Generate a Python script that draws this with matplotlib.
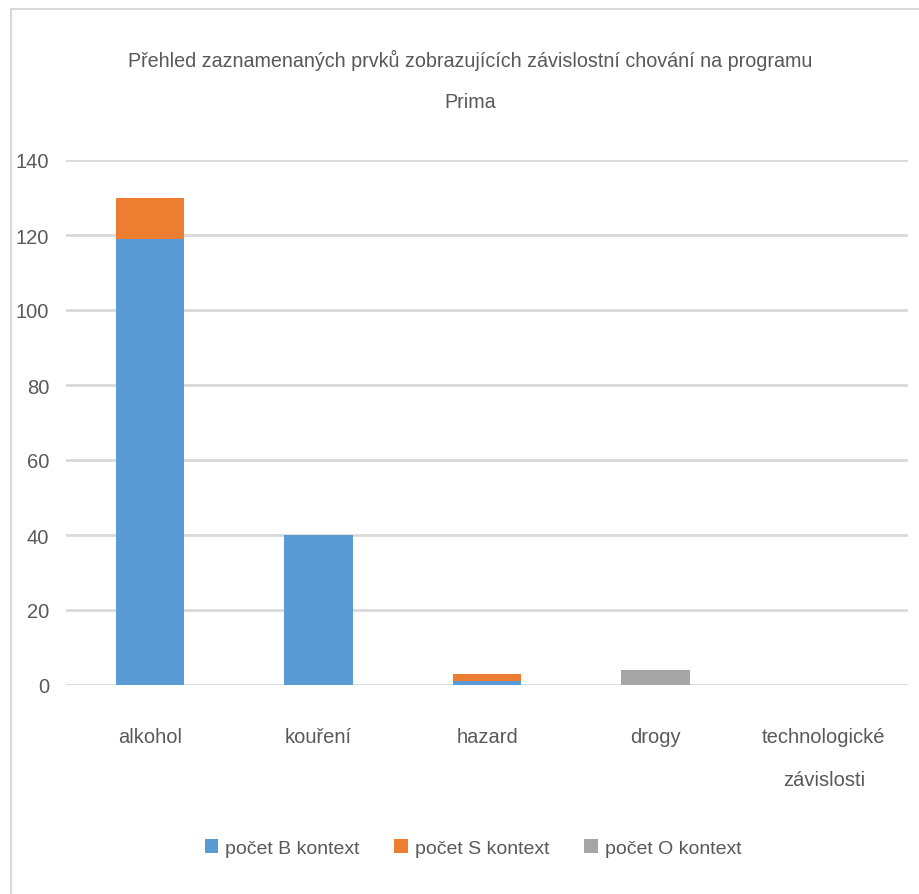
import matplotlib
matplotlib.use('Agg')
import matplotlib.pyplot as plt
import numpy as np
from matplotlib.patches import Rectangle

# data
kategorie = ['alkohol', 'kouření', 'hazard', 'drogy', 'technologické\nzávislosti']
pocet_B = [119, 40, 1, 0, 0]
pocet_S = [11, 0, 2, 0, 0]
pocet_O = [0, 0, 0, 4, 0]
nazvy = ['počet B kontext', 'počet S kontext', 'počet O kontext']
barvy = ['#5B9BD5', '#ED7D31', '#A5A5A5']

plt.rcParams['font.family'] = ['Liberation Sans', 'DejaVu Sans']
seda = '#595959'

fig = plt.figure(figsize=(9.2, 8.95), dpi=100)
ax = fig.add_axes([66 / 920, 209 / 895, 842 / 920, 525 / 895])

x = np.arange(len(kategorie))
b = np.array(pocet_B)
s = np.array(pocet_S)
o = np.array(pocet_O)
ax.bar(x, b, 0.405, color=barvy[0], label=nazvy[0], zorder=3)
ax.bar(x, s, 0.405, bottom=b, color=barvy[1], label=nazvy[1], zorder=3)
ax.bar(x, o, 0.405, bottom=b + s, color=barvy[2], label=nazvy[2], zorder=3)

ax.set_xlim(-0.5, len(kategorie) - 0.5)
ax.set_ylim(0, 140)
ax.set_yticks(range(0, 141, 20))
ax.set_xticks(x)
ax.set_xticklabels(kategorie, linespacing=2.6)
ax.grid(axis='y', color='#D9D9D9', linewidth=2, zorder=0)
for sp in ax.spines.values():
    sp.set_visible(False)
ax.tick_params(axis='both', length=0, labelsize=14.5, colors=seda)
ax.tick_params(axis='x', pad=30)
ax.tick_params(axis='y', pad=12)

fig.text(470 / 920, 1 - 60 / 895, 'Přehled zaznamenaných prvků zobrazujících závislostní chování na programu',
         ha='center', va='center', fontsize=14.2, color=seda)
fig.text(470 / 920, 1 - 103 / 895, 'Prima', ha='center', va='center', fontsize=14.2, color=seda)

leg = fig.legend(loc='center', bbox_to_anchor=(473 / 920, 1 - 849 / 895), ncol=3, frameon=False,
                 fontsize=14, handlelength=0.7, handleheight=0.7, handletextpad=0.35, columnspacing=1.8,
                 labelcolor=seda)

# okraj grafu
fig.patches.append(Rectangle((11 / 920, -0.1), 1.1, 1 - 10 / 895 + 0.1, transform=fig.transFigure,
                             fill=False, edgecolor='#D9D9D9', linewidth=1.5))

plt.savefig('out.png', dpi=100)
